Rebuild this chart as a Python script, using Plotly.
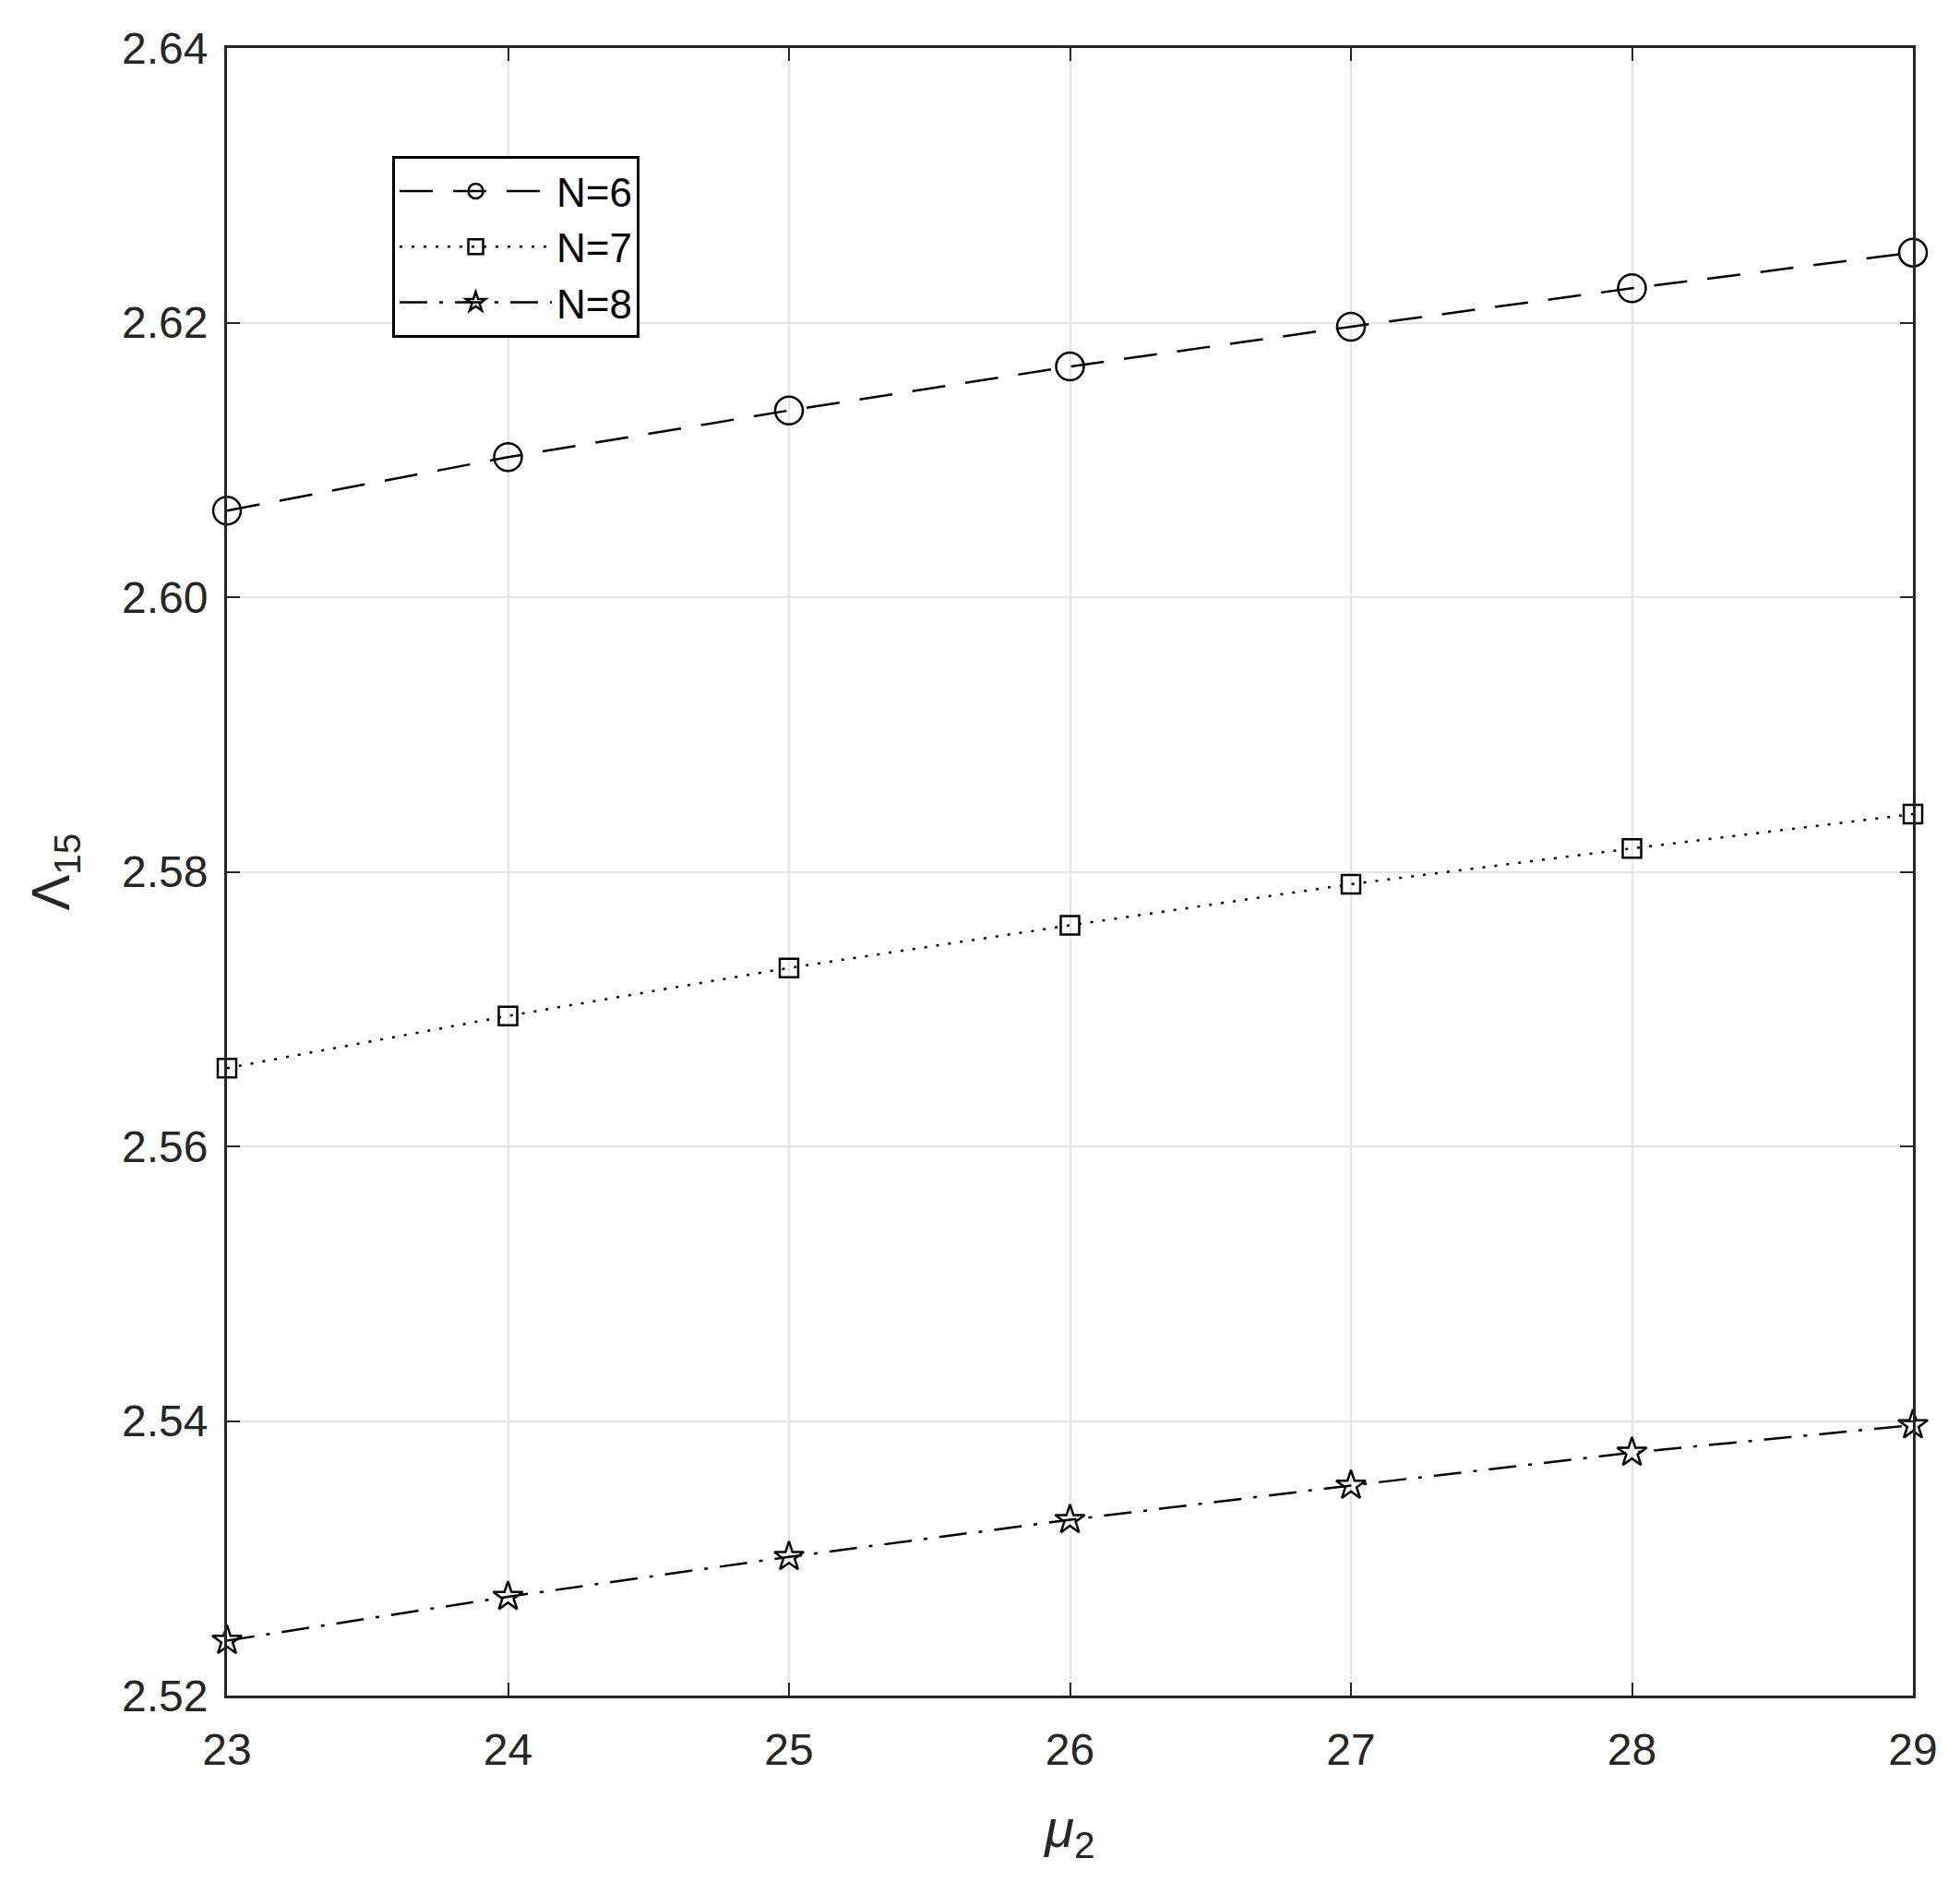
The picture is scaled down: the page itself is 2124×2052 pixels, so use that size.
import plotly.graph_objects as go

mu2 = [23, 24, 25, 26, 27, 28, 29]
lam_n6 = [2.6063, 2.6102, 2.6136, 2.6168, 2.6197, 2.6225, 2.6251]
lam_n7 = [2.5657, 2.5695, 2.5730, 2.5761, 2.5791, 2.5817, 2.5842]
lam_n8 = [2.5240, 2.5272, 2.5301, 2.5328, 2.5353, 2.5377, 2.5397]
y_ticks = [2.52, 2.54, 2.56, 2.58, 2.60, 2.62, 2.64]
y_tick_text = ["2.52", "2.54", "2.56", "2.58", "2.60", "2.62", "2.64"]

series = [
    ("N=6", lam_n6, "36px,22px", "circle-open", 30),
    ("N=7", lam_n7, "3px,10px", "square-open", 20),
    ("N=8", lam_n8, "30px,13px,4px,13px", "star-open", 24),
]

fig = go.Figure()
for name, vals, dash, sym, size in series:
    fig.add_trace(go.Scatter(
        x=mu2, y=vals, name=name, mode="lines+markers",
        line=dict(color="black", width=2.5, dash=dash),
        marker=dict(symbol=sym, size=size, color="black",
                    line=dict(color="black", width=2.5)),
        cliponaxis=False,
    ))

axis_common = dict(
    showline=True, linecolor="#262626", linewidth=3, mirror="ticks",
    ticks="inside", ticklen=14, tickwidth=2, tickcolor="#262626",
    showgrid=True, gridcolor="#e3e3e3", gridwidth=2,
    zeroline=False, automargin=False,
    tickfont=dict(family="Liberation Sans, Arial", size=48, color="#262626"),
)

fig.update_xaxes(
    range=[23, 29], tickvals=mu2, ticktext=[str(v) for v in mu2],
    ticklabelstandoff=14,
    title=dict(text="<i>μ</i><sub>2</sub>", standoff=40,
               font=dict(family="Liberation Sans, Arial", size=58, color="#262626")),
    **axis_common,
)
fig.update_yaxes(
    range=[2.52, 2.64], tickvals=y_ticks, ticktext=y_tick_text,
    ticklabelstandoff=8,
    title=dict(text="Λ<sub>15</sub>", standoff=38,
               font=dict(family="Liberation Sans, Arial", size=58, color="#262626")),
    **axis_common,
)

fig.update_layout(
    width=2124, height=2052,
    margin=dict(l=238, r=59, t=44, b=223),
    plot_bgcolor="white", paper_bgcolor="white",
    showlegend=True,
    legend=dict(
        x=0.098, y=0.9345, xanchor="left", yanchor="top",
        bgcolor="white", bordercolor="black", borderwidth=3,
        font=dict(family="Liberation Sans, Arial", size=44, color="black"),
        itemwidth=165, tracegroupgap=0,
    ),
)

fig.write_html("out.html")
